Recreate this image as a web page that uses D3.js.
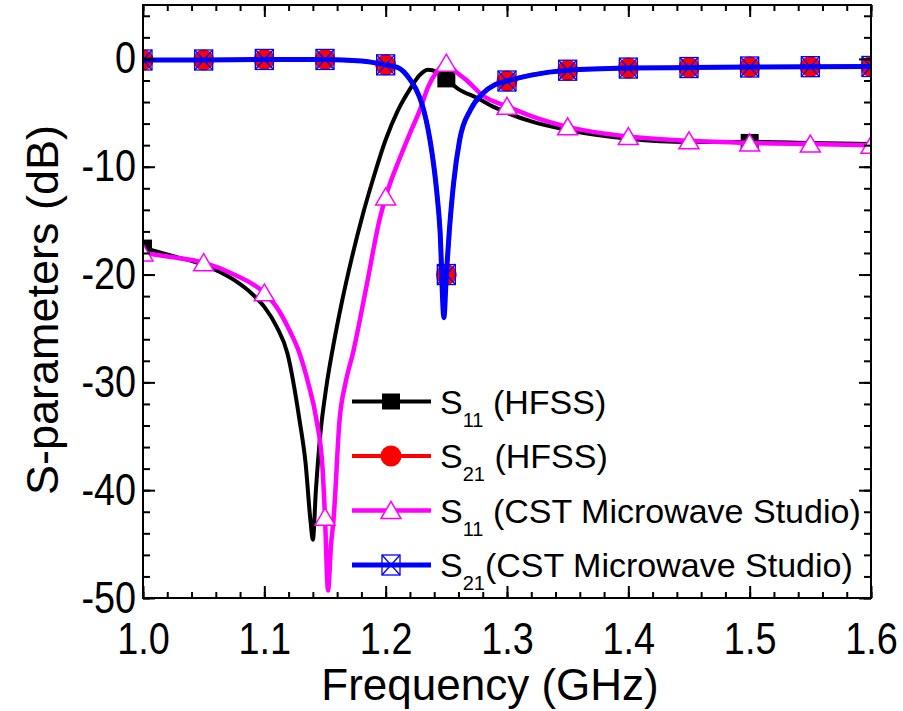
<!DOCTYPE html>
<html>
<head>
<meta charset="utf-8">
<script src="https://cdn.jsdelivr.net/npm/d3@7"></script>
<style>
  body { margin: 0; background: #fff; }
  svg { font-family: "Liberation Sans", Arial, sans-serif; }
  text { white-space: pre; }
</style>
</head>
<body>
<svg id="chart" width="903" height="711"></svg>
<script>
// tick labels
const xTicks = [1.0, 1.1, 1.2, 1.3, 1.4, 1.5, 1.6]
const yTicks = [0, -10, -20, -30, -40, -50]

// frequencies (GHz) where symbols are drawn
const markerFreqs = [1.0, 1.05, 1.1, 1.15, 1.2, 1.25, 1.3, 1.35, 1.4, 1.45, 1.5, 1.55, 1.6]
const hfssS11MarkerFreqs = [1.0, 1.25, 1.5]

// [frequency GHz, dB]
const s11Hfss = [
  [1.00, -17.5], [1.025, -18.3], [1.05, -19.1], [1.075, -20.5], [1.09, -21.8],
  [1.10, -23.0], [1.11, -24.8], [1.119, -27.3], [1.129, -33.5], [1.134, -37.5],
  [1.138, -42.8], [1.140, -44.6], [1.1425, -40.0], [1.146, -35.0], [1.151, -30.5],
  [1.157, -26.5], [1.164, -22.5], [1.172, -18.5], [1.181, -14.5], [1.19, -11.0],
  [1.20, -7.5], [1.21, -4.8], [1.22, -2.8], [1.228, -1.5],
  [1.235, -1.0], [1.242, -1.2], [1.25, -1.9], [1.26, -2.8], [1.275, -3.6],
  [1.29, -4.5], [1.30, -5.0], [1.32, -5.8], [1.35, -6.6], [1.40, -7.4],
  [1.45, -7.7], [1.50, -7.7], [1.55, -7.8], [1.60, -7.9]
]
const s21Hfss = [
  [1.00, -0.1], [1.05, -0.1], [1.10, -0.05], [1.15, -0.05], [1.18, -0.2],
  [1.20, -0.55], [1.21, -0.8], [1.215, -1.2], [1.22, -1.9], [1.225, -2.8],
  [1.23, -4.2], [1.2365, -7.5], [1.24, -10.2], [1.242, -12.2], [1.2448, -15.9],
  [1.248, -23.0], [1.25, -20.0], [1.2525, -15.9], [1.256, -11.5], [1.261, -7.5],
  [1.27, -4.7], [1.28, -3.2], [1.29, -2.4], [1.30, -2.05], [1.32, -1.5],
  [1.35, -1.05], [1.40, -0.85], [1.45, -0.8], [1.50, -0.75], [1.55, -0.72], [1.60, -0.7]
]
const s11Cst = [
  [1.00, -18.0], [1.025, -18.4], [1.05, -18.9], [1.075, -20.0], [1.10, -21.7],
  [1.11, -23.0], [1.12, -25.0], [1.129, -27.3], [1.136, -30.0], [1.143, -33.5],
  [1.148, -38.0], [1.15, -42.5], [1.1525, -49.3], [1.155, -45.0], [1.157, -42.8],
  [1.162, -33.5], [1.167, -30.0], [1.173, -27.3], [1.184, -21.2], [1.195, -14.9],
  [1.20, -12.8], [1.212, -9.1], [1.22, -6.9], [1.228, -4.8], [1.235, -2.6],
  [1.242, -1.2], [1.25, -0.4], [1.258, -1.2], [1.267, -2.0], [1.28, -3.4],
  [1.30, -4.4], [1.32, -5.3], [1.35, -6.3], [1.40, -7.2], [1.45, -7.6],
  [1.50, -7.8], [1.55, -7.9], [1.60, -8.0]
]
const s21Cst = [
  [1.00, -0.1], [1.05, -0.1], [1.10, -0.05], [1.15, -0.05], [1.18, -0.2],
  [1.20, -0.55], [1.21, -0.8], [1.215, -1.2], [1.22, -1.9], [1.225, -2.8],
  [1.23, -4.2], [1.2365, -7.5], [1.24, -10.2], [1.242, -12.2], [1.2448, -15.9],
  [1.248, -24.0], [1.25, -20.0], [1.2525, -15.9], [1.256, -11.5], [1.261, -7.5],
  [1.27, -4.7], [1.28, -3.2], [1.29, -2.4], [1.30, -2.05], [1.32, -1.5],
  [1.35, -1.05], [1.40, -0.85], [1.45, -0.8], [1.50, -0.75], [1.55, -0.72], [1.60, -0.7]
]

const legendSubs = ['11', '21', '11', '21']
const legendNames = [' (HFSS)', ' (HFSS)', ' (CST Microwave Studio)', '(CST Microwave Studio)']

const pLeft = 143, pRight = 871, pTop = 5, pBottom = 598
const x = d3.scaleLinear().domain([1.0, 1.6]).range([pLeft, pRight])
const y = d3.scaleLinear().domain([-50, 5]).range([pBottom, pTop])

const svg = d3.select('#chart')

svg.append('defs').append('clipPath').attr('id', 'plot')
  .append('rect')
    .attr('x', pLeft).attr('y', pTop)
    .attr('width', pRight - pLeft).attr('height', pBottom - pTop)

const line = d3.line()
  .x(d => x(d[0]))
  .y(d => y(d[1]))
  .curve(d3.curveMonotoneX)

const near = (f, list) => list.some(m => Math.abs(m - f) < 1e-6)

// symbol drawers, centred at 0,0
const symbols = {
  square: (g) => g.append('rect')
    .attr('x', -9).attr('y', -8).attr('width', 18).attr('height', 16)
    .attr('fill', '#000'),
  circle: (g) => g.append('circle')
    .attr('r', 10.5).attr('fill', '#ff0000'),
  triangle: (g) => g.append('path')
    .attr('d', 'M0,-9 L10,8 L-10,8 Z')
    .attr('fill', '#fff').attr('stroke', '#ff00ff').attr('stroke-width', 1.5),
  xsquare: (g) => {
    g.append('rect')
      .attr('x', -9).attr('y', -10).attr('width', 18).attr('height', 20)
      .attr('fill', 'none').attr('stroke', '#0000ff').attr('stroke-width', 1.3)
    g.append('path')
      .attr('d', 'M-9,-10 L9,10 M9,-10 L-9,10')
      .attr('stroke', '#0000ff').attr('stroke-width', 1.3)
  }
}

const series = [
  { data: s11Hfss, color: '#000000', width: 4, symbol: 'square', marks: hfssS11MarkerFreqs },
  { data: s21Hfss, color: '#ff0000', width: 4, symbol: 'circle', marks: markerFreqs },
  { data: s11Cst, color: '#ff00ff', width: 4.5, symbol: 'triangle', marks: markerFreqs },
  { data: s21Cst, color: '#0000ff', width: 5, symbol: 'xsquare', marks: markerFreqs }
]

const plot = svg.append('g').attr('clip-path', 'url(#plot)')

series.forEach(s => {
  plot.append('path')
    .datum(s.data)
    .attr('d', line)
    .attr('fill', 'none')
    .attr('stroke', s.color)
    .attr('stroke-width', s.width)
    .attr('stroke-linejoin', 'round')

  plot.selectAll(null)
    .data(s.data.filter(d => near(d[0], s.marks)))
    .enter()
    .append('g')
      .attr('transform', d => `translate(${x(d[0])},${y(d[1])})`)
      .each(function () { symbols[s.symbol](d3.select(this)) })
})

// axes, ticks pointing inward on all four sides
const minorX = d3.range(0, 31).map(i => 1.0 + i * 0.02)
const minorY = d3.range(0, 28).map(i => -50 + i * 2)
const fmtX = d3.format('.1f')
const fmtY = d => String(d)   // plain hyphen, not the unicode minus

const axes = [
  { axis: d3.axisBottom(x).tickValues(xTicks).tickSize(-12).tickPadding(25).tickFormat(fmtX), at: `0,${pBottom}` },
  { axis: d3.axisBottom(x).tickValues(minorX).tickSize(-6).tickFormat(''), at: `0,${pBottom}` },
  { axis: d3.axisTop(x).tickValues(xTicks).tickSize(-12).tickFormat(''), at: `0,${pTop}` },
  { axis: d3.axisTop(x).tickValues(minorX).tickSize(-6).tickFormat(''), at: `0,${pTop}` },
  { axis: d3.axisLeft(y).tickValues(yTicks).tickSize(-12).tickPadding(8).tickFormat(fmtY), at: `${pLeft},0` },
  { axis: d3.axisLeft(y).tickValues(minorY).tickSize(-7).tickFormat(''), at: `${pLeft},0` },
  { axis: d3.axisRight(y).tickValues(yTicks).tickSize(-12).tickFormat(''), at: `${pRight},0` },
  { axis: d3.axisRight(y).tickValues(minorY).tickSize(-7).tickFormat(''), at: `${pRight},0` }
]

axes.forEach(a => {
  const g = svg.append('g')
    .attr('transform', `translate(${a.at})`)
    .call(a.axis)
  g.select('.domain').remove()
  g.selectAll('line').attr('stroke', '#000').attr('stroke-width', 2)
  g.selectAll('text')
    .attr('font-size', 44)
    .attr('font-family', '"Liberation Sans", Arial, sans-serif')
    .attr('fill', '#000')
    .attr('transform', 'scale(0.86,1)')
})

svg.append('rect')
  .attr('x', pLeft).attr('y', pTop)
  .attr('width', pRight - pLeft).attr('height', pBottom - pTop)
  .attr('fill', 'none').attr('stroke', '#000').attr('stroke-width', 2)

// axis titles
svg.append('text')
  .attr('x', (pLeft + pRight) / 2 - 17).attr('y', 700)
  .attr('text-anchor', 'middle')
  .attr('font-size', 44)
  .text('Frequency (GHz)')

svg.append('text')
  .attr('transform', 'translate(58,310) rotate(-90)')
  .attr('text-anchor', 'middle')
  .attr('font-size', 45)
  .text('S-parameters (dB)')

// legend
const legendY = [401.5, 456, 510.5, 565]
const leg = svg.append('g')
series.forEach((s, i) => {
  const row = leg.append('g').attr('transform', `translate(0,${legendY[i]})`)
  row.append('line')
    .attr('x1', 352).attr('x2', 431)
    .attr('stroke', s.color).attr('stroke-width', s.width)
  symbols[s.symbol](row.append('g').attr('transform', 'translate(391,0)'))
  const t = row.append('text')
    .attr('x', 440).attr('y', 12)
    .attr('font-size', 34)
  t.append('tspan').text('S')
  t.append('tspan').attr('font-size', 20).attr('dy', 13).text(legendSubs[i])
  t.append('tspan').attr('dy', -13).text(legendNames[i])
})
</script>
</body>
</html>
